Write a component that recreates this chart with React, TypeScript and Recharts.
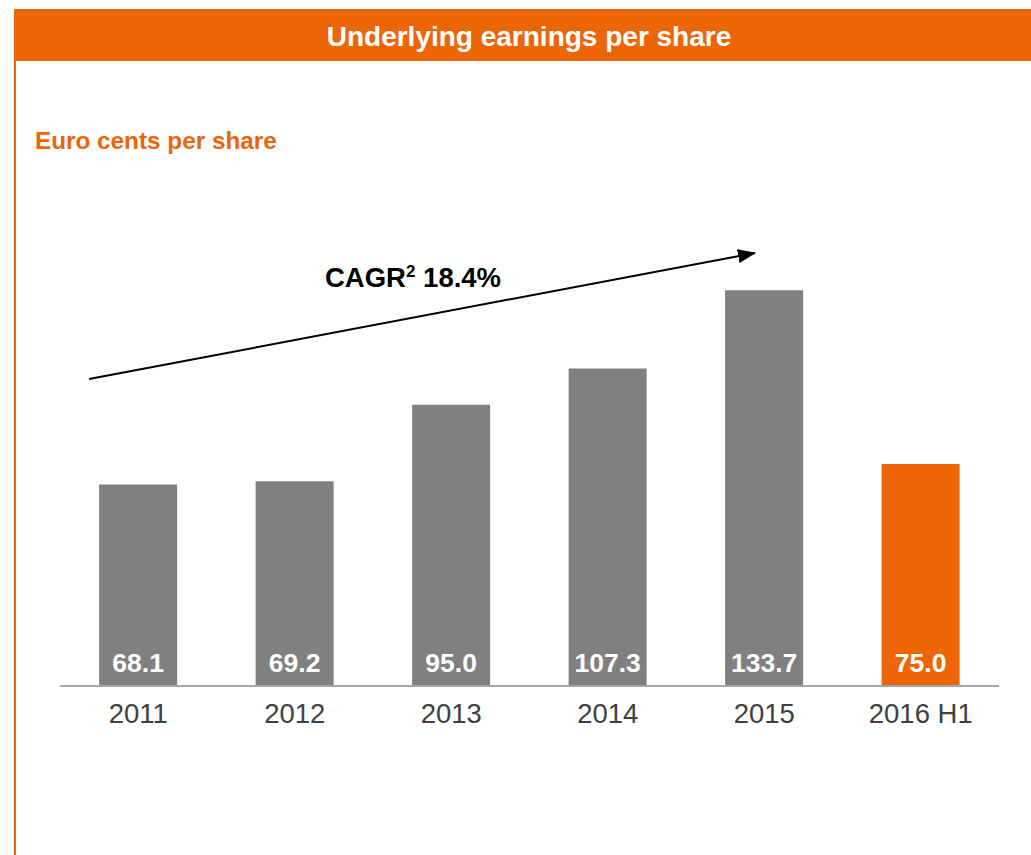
import React from "react"
import { BarChart, Bar, XAxis, YAxis, Cell, LabelList } from "recharts"

const years = ["2011", "2012", "2013", "2014", "2015", "2016 H1"]
const eps = [68.1, 69.2, 95.0, 107.3, 133.7, 75.0]
const highlightYear = "2016 H1"
const cagrLabel = "18.4%"

const data = years.map((year, i) => ({ year, eps: eps[i] }))

const ORANGE = "#ec6608"
const GREY = "#808080"
const FONT = "'Liberation Sans', Arial, Helvetica, sans-serif"

const fmt = (v: any) => Number(v).toFixed(1)

export default function App() {
  return (
    <div style={{ position: "absolute", left: 0, top: 0, width: 1031, height: 855, background: "#fff", fontFamily: FONT, overflow: "hidden" }}>
      {/* header band */}
      <div
        style={{
          position: "absolute",
          left: 14,
          top: 9,
          width: 1017,
          height: 52,
          background: ORANGE,
          color: "#fff",
          fontWeight: "bold",
          fontSize: 28,
          lineHeight: "56px",
          textAlign: "center",
          paddingLeft: 13,
          boxSizing: "border-box",
        }}
      >
        Underlying earnings per share
      </div>
      {/* left border */}
      <div style={{ position: "absolute", left: 14, top: 9, width: 2, height: 846, background: ORANGE }} />
      <div style={{ position: "absolute", left: 35, top: 127, color: ORANGE, fontWeight: "bold", fontSize: 24.3 }}>
        Euro cents per share
      </div>

      <BarChart
        width={1031}
        height={855}
        data={data}
        margin={{ top: 242, right: 32, bottom: 139, left: 60 }}
        barCategoryGap="25%"
      >
        <YAxis hide domain={[0, 150]} />
        <XAxis
          dataKey="year"
          axisLine={{ stroke: "#a6a6a6", strokeWidth: 2 }}
          tickLine={false}
          tickSize={0}
          tickMargin={17}
          interval={0}
          tick={{ fill: "#404040", fontSize: 27.5, fontFamily: FONT }}
        />
        <Bar dataKey="eps" isAnimationActive={false}>
          {data.map((d) => (
            <Cell key={d.year} fill={d.year === highlightYear ? ORANGE : GREY} />
          ))}
          <LabelList
            dataKey="eps"
            position="insideBottom"
            offset={14}
            formatter={fmt}
            fill="#fff"
            style={{ fontWeight: "bold", fontSize: 26.5, fontFamily: FONT }}
          />
        </Bar>
      </BarChart>

      {/* CAGR arrow */}
      <svg width={1031} height={855} style={{ position: "absolute", left: 0, top: 0, pointerEvents: "none" }}>
        <defs>
          <marker id="ah" markerWidth="9" markerHeight="7" refX="8.5" refY="3.5" orient="auto" markerUnits="strokeWidth">
            <path d="M0,0 L9,3.5 L0,7 Z" fill="#000" />
          </marker>
        </defs>
        <line x1={89} y1={379} x2={755} y2={253} stroke="#000" strokeWidth={2} markerEnd="url(#ah)" />
        <text x={325} y={287} fontFamily={FONT} fontWeight="bold" fontSize={27.5} fill="#000">
          CAGR
          <tspan fontSize={17} dy={-10}>2</tspan>
          <tspan dy={10}> {cagrLabel}</tspan>
        </text>
      </svg>
    </div>
  )
}
